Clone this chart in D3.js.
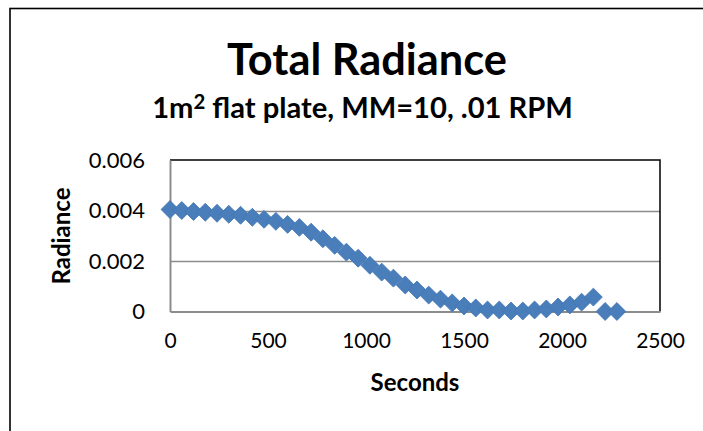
<!DOCTYPE html>
<html>
<head>
<meta charset="utf-8">
<script src="https://cdn.jsdelivr.net/npm/d3@7"></script>
<style>
  html, body { margin: 0; padding: 0; background: #fff; }
  svg { display: block; }
  text { font-family: Lato, "Open Sans", sans-serif; fill: #000; }
</style>
</head>
<body>
<div id="chart"></div>
<script>
// Sample times (s) and total radiance readings
const seconds = [0, 60, 120, 180, 240, 300, 360, 420, 480, 540, 600, 660, 720, 780, 840,
  900, 960, 1020, 1080, 1140, 1200, 1260, 1320, 1380, 1440, 1500, 1560, 1620, 1680,
  1740, 1800, 1860, 1920, 1980, 2040, 2100, 2160, 2220, 2280];
const radiance = [0.00404, 0.00400, 0.00396, 0.00393, 0.00389, 0.00385, 0.00381, 0.00373,
  0.00365, 0.00357, 0.00345, 0.00333, 0.00314, 0.00288, 0.00262, 0.00235, 0.00211,
  0.00183, 0.00156, 0.00132, 0.00105, 0.00085, 0.00065, 0.00049, 0.00034, 0.00022,
  0.00014, 0.00006, 0.00006, 0.00002, 0.00002, 0.00006, 0.00010, 0.00018, 0.00026,
  0.00037, 0.00057, 0, 0];
const xTicks = [0, 500, 1000, 1500, 2000, 2500];
const yTicks = [0, 0.002, 0.004, 0.006];
const yTickLabels = ["0", "0.002", "0.004", "0.006"];

const W = 703, H = 431;
const plot = { left: 170, right: 660, top: 160, bottom: 311.5 };

const svg = d3.select("#chart").append("svg").attr("width", W).attr("height", H);

// chart frame (continues past the visible window on the right and bottom)
svg.append("rect")
  .attr("x", 10).attr("y", 8.5).attr("width", 720).attr("height", 460)
  .attr("fill", "#fff").attr("stroke", "#000").attr("stroke-width", 1.6);

const x = d3.scaleLinear().domain([0, 2500]).range([plot.left, plot.right]);
const y = d3.scaleLinear().domain([0, 0.006]).range([plot.bottom, plot.top]);

// fit a text element to a target width by scaling its font size
function fitWidth(sel, target) {
  const node = sel.node();
  const fs = parseFloat(sel.attr("font-size"));
  const w = node.getComputedTextLength();
  sel.attr("font-size", fs * target / w);
}

// titles
const title = svg.append("text")
  .attr("x", 367).attr("y", 75).attr("text-anchor", "middle")
  .attr("font-size", 40).attr("font-weight", "bold").text("Total Radiance");
fitWidth(title, 280);

const sub = svg.append("text")
  .attr("x", 362.5).attr("y", 118).attr("text-anchor", "middle")
  .attr("font-size", 26).attr("font-weight", "bold");
sub.append("tspan").text("1m");
sub.append("tspan").attr("dy", -9).attr("font-size", "0.7em").text("2");
sub.append("tspan").attr("dy", 9).text(" flat plate, MM=10, .01 RPM");
fitWidth(sub, 421);

// gridlines
svg.append("g")
  .selectAll("line").data(yTicks.filter(v => v > 0 && v < 0.006)).join("line")
  .attr("x1", plot.left).attr("x2", plot.right)
  .attr("y1", d => Math.round(y(d)) + 0.5).attr("y2", d => Math.round(y(d)) + 0.5)
  .attr("stroke", "#8c8c8c").attr("stroke-width", 1.5);

// plot area outline (top and right)
svg.append("path")
  .attr("d", `M${plot.left},${plot.top}H${plot.right}V${plot.bottom}`)
  .attr("fill", "none").attr("stroke", "#000").attr("stroke-width", 1.5);

// axes
const xAxis = d3.axisBottom(x).tickValues(xTicks).tickSize(0).tickPadding(22)
  .tickFormat(d3.format("d"));
const gx = svg.append("g").attr("transform", `translate(0,${plot.bottom})`).call(xAxis);
gx.select(".domain").attr("stroke", "#8c8c8c").attr("stroke-width", 2);
gx.selectAll("text").attr("font-size", 21).attr("fill", "#000");

const yAxis = d3.axisLeft(y).tickValues(yTicks).tickSize(0).tickPadding(25)
  .tickFormat((d, i) => yTickLabels[i]);
const gy = svg.append("g").attr("transform", `translate(${plot.left},0)`).call(yAxis);
gy.select(".domain").attr("stroke", "#8c8c8c").attr("stroke-width", 2);
gy.selectAll("text").attr("font-size", 22).attr("fill", "#000");

// axis titles
svg.append("text")
  .attr("x", 415).attr("y", 391).attr("text-anchor", "middle")
  .attr("font-size", 24).attr("font-weight", "bold").text("Seconds");
svg.append("text")
  .attr("transform", "translate(70,236) rotate(-90)")
  .attr("text-anchor", "middle")
  .attr("font-size", 24).attr("font-weight", "bold").text("Radiance");

// diamond markers
const diamond = d3.symbol().type(d3.symbolSquare).size(160);
svg.append("g")
  .selectAll("path").data(seconds.map((s, i) => [s, radiance[i]])).join("path")
  .attr("d", diamond)
  .attr("transform", d => `translate(${x(d[0])},${y(d[1])}) rotate(45)`)
  .attr("fill", "#4a7ebb").attr("stroke", "#4276b4").attr("stroke-width", 0.8);
</script>
</body>
</html>
